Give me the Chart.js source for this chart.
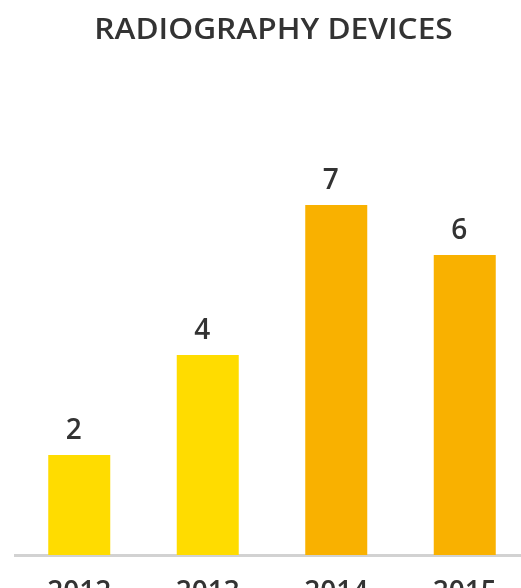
<!DOCTYPE html>
<html>
<head>
<meta charset="utf-8">
<script src="https://cdn.jsdelivr.net/npm/chart.js@4/dist/chart.umd.min.js"></script>
<style>
  html, body { margin: 0; padding: 0; background: #fff; overflow: hidden; }
  #wrap { width: 544px; height: 615px; }
</style>
</head>
<body>
<div id="wrap"><canvas id="chart" width="544" height="615"></canvas></div>
<script>
// 数据
var chartTitle = 'RADIOGRAPHY DEVICES';
var years = ['2012', '2013', '2014', '2015'];
var devices = [2, 4, 7, 6];

// 颜色：前两年黄色，后两年橙色
var barColors = ['#FFDC00', '#FFDC00', '#F9B100', '#F9B100'];
var textColor = '#333333';
var fontFamily = '"Open Sans", "Noto Sans", sans-serif';

// 标题：字形横向加宽，自己画
var titleDraw = {
    id: 'titleDraw',
    afterDraw: function(chart) {
        var ctx = chart.ctx;
        ctx.save();
        ctx.fillStyle = textColor;
        ctx.font = '600 28px ' + fontFamily;
        ctx.textAlign = 'center';
        ctx.textBaseline = 'alphabetic';
        ctx.translate(273.5, 38.7);
        ctx.scale(1.13, 1);
        ctx.fillText(chartTitle, 0, 0);
        ctx.restore();
    }
};

// 柱子上方的数值
var valueLabels = {
    id: 'valueLabels',
    afterDatasetsDraw: function(chart) {
        var ctx = chart.ctx;
        var meta = chart.getDatasetMeta(0);
        ctx.save();
        ctx.fillStyle = textColor;
        ctx.font = '600 28px ' + fontFamily;
        ctx.textAlign = 'center';
        ctx.textBaseline = 'alphabetic';
        meta.data.forEach(function(bar, i) {
            ctx.fillText(String(devices[i]), bar.x - 5.5, bar.y - 16.5);
        });
        ctx.restore();
    }
};

var ctx = document.getElementById('chart').getContext('2d');
var chart = new Chart(ctx, {
    type: 'bar',
    data: {
        labels: years,
        datasets: [{
            data: devices,
            backgroundColor: barColors,
            borderWidth: 0,
            categoryPercentage: 1,
            barPercentage: 0.4825
        }]
    },
    options: {
        responsive: false,
        animation: false,
        devicePixelRatio: 1,
        layout: { padding: { left: 15, right: 15, top: 55, bottom: 0 } },
        plugins: {
            legend: { display: false },
            tooltip: { enabled: false },
            title: { display: false }
        },
        scales: {
            x: {
                grid: { display: false, drawTicks: false },
                border: { display: true, color: '#D2D2D2', width: 3 },
                ticks: {
                    color: textColor,
                    padding: 21,
                    font: { family: fontFamily, size: 28, weight: '600', lineHeight: 1.2 }
                },
                afterFit: function(scale) { scale.height = 60; }
            },
            y: {
                display: false,
                min: 0,
                max: 10
            }
        }
    },
    plugins: [valueLabels, titleDraw]
});
</script>
</body>
</html>
